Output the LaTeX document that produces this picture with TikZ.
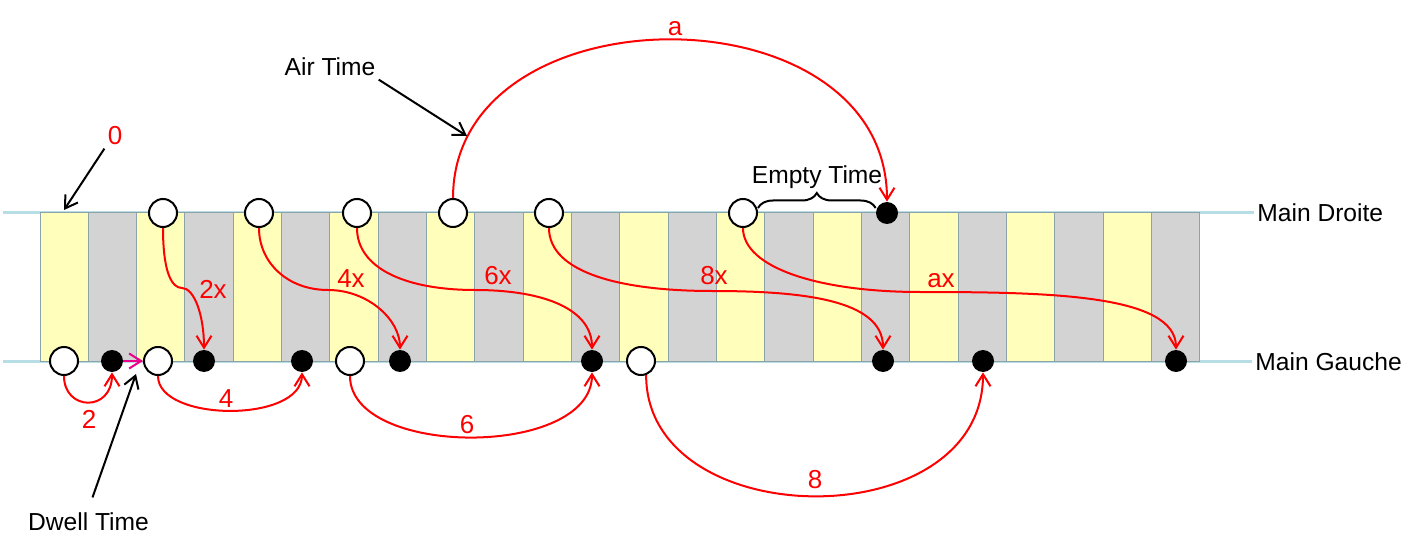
\documentclass[tikz,border=0pt]{standalone}
\usepackage{fontspec}
\setmainfont{Liberation Sans}
\usetikzlibrary{arrows.meta,decorations.pathreplacing}

\definecolor{slotyellow}{RGB}{255,255,187}
\definecolor{slotgray}{RGB}{211,211,211}
\definecolor{slotedge}{RGB}{140,163,170}
\definecolor{handline}{RGB}{183,222,228}

\tikzstyle{hold}=[circle,draw=black,fill=white,line width=1pt,minimum size=14pt,inner sep=0pt]
\tikzstyle{drop}=[circle,fill=black,minimum size=11pt,inner sep=0pt]
\tikzstyle{txt}=[font=\fontsize{12.3}{14}\selectfont,inner sep=1.5pt,anchor=base]
\tikzstyle{lbl}=[txt,text=red,font=\fontsize{13}{15}\selectfont]
\tikzstyle{flow}=[red,line width=1pt,->]
\tikzstyle{pointer}=[black,line width=1pt,->]

\begin{document}
\begin{tikzpicture}[x=0.5pt,y=-0.5pt,>={Straight Barb[length=6pt,width=7.5pt]}]
  \useasboundingbox (0,0) rectangle (1420,551);

  % the two hands
  \node[txt,anchor=base west] (droite) at (1254,221) {Main Droite};
  \node[txt,anchor=base west] (gauche) at (1252,370) {Main Gauche};
  \coordinate (dstart) at (3,213);
  \coordinate (gstart) at (3,361);
  \draw[handline,line width=1.5pt] (dstart) -- (droite.west |- dstart);
  \draw[handline,line width=1.5pt] (gstart) -- (gauche.west |- gstart);

  \foreach \k in {0,2,...,22}
    \draw[slotedge,line width=0.5pt,fill=slotyellow] (40+48.33*\k,213) rectangle ++(48.33,148);
  \foreach \k in {1,3,...,23}
    \draw[slotedge,line width=0.5pt,fill=slotgray] (40+48.33*\k,213) rectangle ++(48.33,148);

  % throws
  \node[hold] (t1) at (163,213) {};
  \node[hold] (t2) at (259,213) {};
  \node[hold] (t3) at (357,213) {};
  \node[hold] (t4) at (453,213) {};
  \node[hold] (t5) at (549,213) {};
  \node[hold] (t6) at (743,213) {};
  \node[drop] (ft) at (887,213) {};

  \node[hold] (b1) at (64,361) {};
  \node[hold] (b2) at (158,361) {};
  \node[hold] (b3) at (350,361) {};
  \node[hold] (b4) at (641,361) {};

  % catches
  \node[drop] (f1) at (112,361) {};
  \node[drop] (f2) at (204,361) {};
  \node[drop] (f3) at (302,361) {};
  \node[drop] (f4) at (400,361) {};
  \node[drop] (f5) at (592,361) {};
  \node[drop] (f6) at (883,361) {};
  \node[drop] (f7) at (983,361) {};
  \node[drop] (f8) at (1176,361) {};

  % same hand
  \draw[flow] (b1.south) .. controls +(0,35) and +(0,40) .. (f1.south);
  \node[lbl] (n2) at (89,428) {2};
  \draw[flow] (b2.south) .. controls +(0,46) and +(0,51) .. (f3.south);
  \node[lbl] (n4) at (226,407) {4};
  \draw[flow] (b3.south) .. controls +(0,82) and +(0,86) .. (f5.south);
  \node[lbl] (n6) at (467,433) {6};
  \draw[flow] (b4.-70) .. controls +(0,160) and +(0,166) .. (f7.south);
  \node[lbl] (n8) at (815,488) {8};
  \draw[flow] (t4.north) .. controls +(0,-211) and +(0,-216) .. (ft.north);
  \node[lbl] (na) at (675,36) {a};

  % crossings
  \coordinate (m1) at (182,288);
  \coordinate (m2) at (328,290);
  \coordinate (m3) at (475,290);
  \coordinate (m4) at (712,291);
  \coordinate (m5) at (920,292);
  \draw[flow] (t1.south) .. controls +(0,45) and +(-10,0) .. (m1) .. controls +(12,0) and +(0,-35) .. (f2.north);
  \draw[flow] (t2.south) .. controls +(0,35) and +(-40,0) .. (m2) .. controls +(40,0) and +(0,-30) .. (f4.north);
  \draw[flow] (t3.south) .. controls +(0,40) and +(-70,0) .. (m3) .. controls +(70,0) and +(0,-40) .. (f5.north);
  \draw[flow] (t5.south) .. controls +(0,45) and +(-90,0) .. (m4) .. controls +(90,0) and +(0,-50) .. (f6.north);
  \draw[flow] (t6.south) .. controls +(0,40) and +(-100,0) .. (m5) .. controls +(130,0) and +(0,-55) .. (f8.north);
  \node[lbl] (n2x) at (213,298) {2x};
  \node[lbl] (n4x) at (351,287) {4x};
  \node[lbl] (n6x) at (498,285) {6x};
  \node[lbl] (n8x) at (714,285) {8x};
  \node[lbl] (nax) at (941,287) {ax};

  \draw[magenta,line width=1pt,->] (f1.east) -- (b2.west);

  % notes
  \node[lbl] (zero) at (115,145) {0};
  \coordinate (zeropt) at (64,210);
  \draw[pointer] (zero.south west) -- (zeropt);

  \node[txt] (air) at (330,76) {Air Time};
  \coordinate (airpt) at (467,136);
  \draw[pointer] (air.south east) -- (airpt);

  \node[txt] (dwell) at (88.5,530) {Dwell Time};
  \coordinate (dwellpt) at (136,374);
  \draw[pointer,shorten <=6pt] (dwell.north) -- (dwellpt);

  \node[txt] (empty) at (817,184) {Empty Time};
  \draw[line width=1pt,decorate,decoration={brace,amplitude=7.5pt}] ([yshift=2.5pt]t6.east) -- ([yshift=2.5pt]ft.west);
\end{tikzpicture}
\end{document}
